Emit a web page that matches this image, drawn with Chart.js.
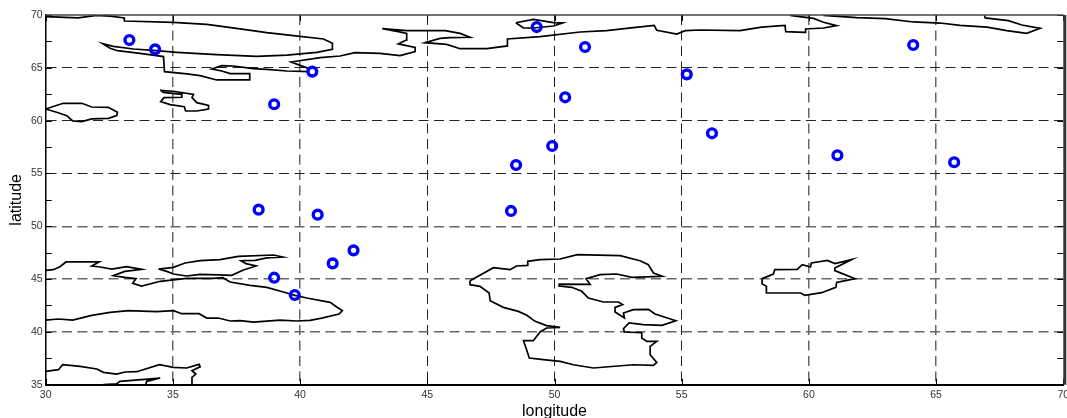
<!DOCTYPE html>
<html>
<head>
<meta charset="utf-8">
<style>
  html, body { margin: 0; padding: 0; background: #fff; }
  canvas { display: block; }
</style>
<script src="https://cdn.jsdelivr.net/npm/chart.js@4/dist/chart.umd.js"></script>
</head>
<body>
<canvas id="myChart" width="1067" height="418"></canvas>
<script>
const xTicks = [30, 35, 40, 45, 50, 55, 60, 65, 70];
const yTicks = [35, 40, 45, 50, 55, 60, 65, 70];
const yMinor = [37.5, 42.5, 47.5, 52.5, 57.5, 62.5, 67.5];

const stationLon = [33.29, 34.3, 40.48, 38.98, 38.37, 40.69, 42.1, 41.28, 38.98, 39.79, 49.3, 51.2, 55.2, 50.42, 49.91, 48.49, 48.29, 64.1, 56.19, 61.12, 65.71];
const stationLat = [67.63, 66.75, 64.64, 61.55, 51.57, 51.1, 47.72, 46.49, 45.13, 43.49, 68.86, 66.97, 64.38, 62.21, 57.6, 55.8, 51.45, 67.16, 58.8, 56.72, 56.06];

// coastlines, one lon/lat array pair per outline
const northLon = [30, 31.28, 32, 32.53, 33.09, 33.09, 35.02, 36.33, 37.64, 38.69, 39.74, 40.92, 41.27, 41.27, 40.66, 39.48, 38.3, 36.72, 35.15, 34.36, 33.45, 32.66, 32.24, 32.53, 32.82, 33.71, 34.63, 34.67, 35.55, 36.07, 36.72, 38.02, 38.02, 37.25, 36.92, 36.53, 36.92, 37.38, 38.16, 38.69, 39.48, 40.33, 40.33, 39.65, 40.79, 41.57, 42.16, 43.14, 43.93, 44.52, 44.52, 43.86, 44.17, 44.19, 43.86, 43.23, 44.19, 45, 45.7, 46.29, 46.68, 45.9, 45.5, 44.91, 45.76, 46.29, 47.34, 48.15, 48.15, 49.43, 51.01, 52.05, 53.1, 53.92, 54.02, 54.81, 55.14, 55.72, 57.29, 58.14, 59.06, 59.09, 59.85, 59.87, 60.57, 61.09, 60.57, 60.18, 59.26];
const northLat = [69.84, 69.72, 69.97, 69.9, 69.72, 69.43, 69.31, 69.12, 68.68, 68.33, 68.04, 67.73, 67.32, 66.75, 66.47, 66.21, 66.09, 66.25, 66.47, 66.62, 66.78, 67.03, 67.29, 66.85, 66.62, 66.37, 66.06, 64.64, 64.42, 64.26, 63.85, 63.85, 64.45, 64.45, 64.7, 64.89, 65.2, 65.17, 64.92, 64.86, 64.7, 64.64, 64.95, 65.55, 65.96, 66.12, 66.44, 66.37, 66.15, 66.53, 66.94, 67.26, 67.63, 68.26, 68.42, 68.71, 68.52, 68.52, 68.52, 68.26, 67.89, 67.85, 67.79, 67.38, 67.22, 66.81, 66.81, 67.07, 67.73, 67.95, 68.39, 68.52, 68.8, 69.02, 68.55, 68.2, 68.52, 68.58, 68.52, 68.86, 69.02, 68.42, 68.36, 68.68, 68.77, 69, 69.31, 69.68, 69.97];

const northEastLon = [60.57, 61.88, 63, 64.11, 65.16, 65.94, 67, 67.78, 68.56, 69.09, 68.37, 67.84, 66.93, 66.9];
const northEastLat = [69.97, 69.75, 69.65, 69.34, 69.24, 69.02, 68.86, 68.52, 68.26, 68.74, 69.05, 69.46, 69.72, 69.97];

const kolguevLon = [48.48, 49.17, 49.96, 50.32, 49.96, 49.17, 48.78, 48.48];
const kolguevLat = [69.27, 69.59, 69.27, 69.24, 68.96, 68.77, 68.77, 69.27];

const lake1Lon = [30, 30.69, 31.42, 31.81, 32.46, 32.82, 32.79, 32.46, 31.81, 31.42, 31.06, 30.83, 30.43, 30];
const lake1Lat = [61.1, 61.64, 61.64, 61.29, 61.26, 60.79, 60.47, 60.22, 60.16, 59.9, 59.97, 60.47, 60.79, 61.1];

const lake2Lon = [34.5, 35.02, 35.81, 35.75, 35.94, 36.4, 36.4, 35.94, 35.5, 35.45, 34.89, 34.52, 34.65, 35.35, 35.35, 34.63, 34.5];
const lake2Lat = [62.87, 62.78, 62.49, 62.18, 61.7, 61.45, 61.1, 60.91, 60.91, 61.32, 61.51, 61.8, 62.18, 62.21, 62.49, 62.68, 62.87];

const blackSeaLon = [30, 30.3, 30.56, 30.8, 32.1, 31.81, 32.14, 32.6, 33.18, 33.77, 33.11, 32.66, 33.11, 33.55, 33.42, 33.77, 34.5, 35.54, 36.59, 36.96, 37.25, 38.03, 38.69, 39.34, 39.8, 40.26, 41.18, 41.44, 41.66, 41.53, 40.85, 40.39, 39.87, 39.21, 38.17, 37.64, 37.25, 36.79, 36.33, 36.03, 35.35, 35.02, 34.36, 33.25, 32.53, 31.81, 31.06, 30.5, 30];
const blackSeaLat = [45.83, 45.89, 46.17, 46.62, 46.62, 46.24, 46.14, 45.95, 46.17, 45.92, 45.73, 45.32, 45.16, 45.04, 44.6, 44.34, 44.79, 45.07, 45.07, 45.13, 44.72, 44.41, 44.22, 43.78, 43.46, 43.21, 42.8, 42.35, 42.01, 41.69, 41.31, 41.09, 41.03, 41.12, 40.93, 41.06, 41.03, 41.31, 41.31, 41.72, 41.72, 42.01, 41.91, 42.01, 41.85, 41.57, 41.12, 41.22, 41.12];

const azovLon = [34.43, 35.02, 35.48, 36.07, 36.85, 37.57, 38.95, 39.32, 38.69, 38.23, 37.68, 37.87, 38.27, 37.77, 37.31, 36.79, 36.07, 35.54, 35.02, 34.76, 34.43];
const azovLat = [45.95, 46.11, 46.52, 46.74, 46.84, 47.15, 47.28, 47.09, 47, 46.77, 46.74, 46.46, 46.24, 45.86, 45.35, 45.39, 45.45, 45.29, 45.48, 45.73, 45.95];

const medLon = [30, 30.5, 30.67, 31.35, 32.01, 32.27, 32.79, 33.12, 33.58, 34.47, 35.02, 35.54, 36.03, 36.07, 35.75, 35.9, 35.75, 35.75];
const medLat = [36.26, 36.42, 36.89, 36.74, 36.49, 36.17, 36.01, 36.2, 36.23, 36.89, 36.64, 36.58, 36.93, 36.7, 36.33, 36.01, 35.7, 35];

const cyprusLon = [32.27, 32.79, 32.92, 34.5, 33.97, 33.93];
const cyprusLat = [35, 35.09, 35.32, 35.63, 35.32, 35];

const caspianLon = [46.68, 47.6, 48.25, 48.51, 48.95, 48.95, 49.43, 50.22, 50.9, 52.58, 53.36, 53.69, 53.89, 54.24, 53.04, 52.45, 51.79, 51.24, 51.4, 50.19, 50.18, 50.68, 51.07, 51.33, 51.92, 52.51, 52.68, 52.38, 52.38, 52.75, 52.71, 53.1, 53.69, 53.95, 54.77, 54.22, 53.49, 52.93, 52.71, 52.75, 53.43, 53.43, 53.63, 54.02, 53.76, 53.76, 54.02, 53.89, 53.1, 51.53, 50.74, 50.22, 49.56, 49.01, 48.88, 48.78, 49.17, 49.43, 49.69, 50.22, 49.69, 49.24, 48.91, 48.58, 47.99, 47.47, 47.43, 47.07, 46.68, 46.68];
const caspianLat = [44.85, 46.08, 45.89, 46.24, 46.3, 46.68, 46.84, 46.9, 47.31, 47.22, 46.74, 46.36, 45.57, 45.26, 45.16, 45.48, 45.42, 45.04, 44.5, 44.53, 44.34, 44.22, 43.84, 43.21, 42.83, 42.83, 42.58, 42.32, 41.88, 41.31, 41.79, 42.1, 42.13, 41.69, 41.06, 40.62, 40.68, 40.84, 40.3, 39.99, 39.92, 39.42, 39.1, 39.1, 38.63, 37.84, 37.11, 36.83, 36.89, 36.58, 36.89, 37.21, 37.37, 37.53, 38.47, 39.17, 39.17, 39.99, 40.37, 40.43, 40.59, 41, 41.57, 41.94, 42.32, 42.95, 43.68, 44.31, 44.47, 44.85];

const aralLon = [58.16, 58.6, 58.66, 59.54, 59.74, 60.06, 60.1, 60.73, 61.02, 61.68, 61.02, 61.02, 61.81, 61.09, 61.06, 60.5, 59.84, 59.68, 58.33, 58.33, 58.16, 58.16];
const aralLat = [45.04, 45.48, 45.89, 45.92, 46.36, 46.14, 46.52, 46.77, 46.46, 46.84, 46.05, 45.8, 45.04, 44.69, 44.22, 43.71, 43.46, 43.68, 43.68, 44.31, 44.56, 45.04];

const toPoints = (lon, lat) => lon.map((x, i) => ({ x: x, y: lat[i] }));

const coast = (lon, lat) => ({
  type: 'line',
  data: toPoints(lon, lat),
  borderColor: '#000',
  borderWidth: 1.7,
  pointRadius: 0,
  tension: 0,
  clip: true,
});

const outlines = [
  [northLon, northLat], [northEastLon, northEastLat], [kolguevLon, kolguevLat],
  [lake1Lon, lake1Lat], [lake2Lon, lake2Lat], [blackSeaLon, blackSeaLat],
  [azovLon, azovLat], [medLon, medLat], [cyprusLon, cyprusLat],
  [caspianLon, caspianLat], [aralLon, aralLat],
];

// the "70" label hangs off the canvas in the reference, layout would pull the axis in for it
const plotRight = 1063.3;
const stretchRight = {
  id: 'stretchRight',
  afterLayout(chart) {
    const x = chart.scales.x;
    x.right = plotRight;
    x.width = plotRight - x.left;
    x.configure();
    chart.chartArea.right = plotRight;
    chart.chartArea.width = x.width;
  },
};

// matlab style box: inward ticks, top and right edges
const boxTicks = {
  id: 'boxTicks',
  afterDatasetsDraw(chart) {
    const { ctx, chartArea: a, scales: { x, y } } = chart;
    ctx.save();
    ctx.strokeStyle = '#000';
    ctx.lineWidth = 1;
    ctx.beginPath();
    yTicks.concat(yMinor).forEach((v) => {
      const py = Math.round(y.getPixelForValue(v)) + 0.5;
      ctx.moveTo(a.left, py);
      ctx.lineTo(a.left + 6, py);
      ctx.moveTo(a.right, py);
      ctx.lineTo(a.right - 6, py);
    });
    xTicks.forEach((v) => {
      const px = Math.round(x.getPixelForValue(v)) + 0.5;
      ctx.moveTo(px, a.bottom);
      ctx.lineTo(px, a.bottom - 6);
      ctx.moveTo(px, a.top);
      ctx.lineTo(px, a.top + 6);
    });
    ctx.stroke();
    ctx.strokeStyle = '#444';
    ctx.lineWidth = 1.5;
    ctx.beginPath();
    ctx.moveTo(a.left, a.top);
    ctx.lineTo(a.right, a.top);
    ctx.stroke();
    ctx.strokeStyle = '#333';
    ctx.lineWidth = 3;
    ctx.beginPath();
    ctx.moveTo(a.right + 1.5, a.top);
    ctx.lineTo(a.right + 1.5, a.bottom);
    ctx.stroke();
    ctx.restore();
  },
};

// grid lines that land between two pixels in the reference come out grey and wide
const softX = [35, 40, 60, 65];
const softY = [40, 45, 50];
const xEdges = [30, 70];
const yEdges = [35, 70];

const gridStyle = (edges, soft) => ({
  color: (c) => {
    const v = c.tick && c.tick.value;
    if (v === undefined || edges.includes(v)) return 'rgba(0,0,0,0)';
    return soft.includes(v) ? '#666' : '#222';
  },
  lineWidth: (c) => (c.tick && soft.includes(c.tick.value) ? 1.5 : 1),
  drawTicks: false,
  tickLength: 0,
});

const tickFont = { family: '"Liberation Sans"', size: 10.5 };
const titleFont = { family: '"Liberation Sans"', size: 16, lineHeight: 1 };

const config = {
  type: 'scatter',
  data: {
    datasets: [
      {
        data: toPoints(stationLon, stationLat),
        pointStyle: 'circle',
        pointRadius: 4.4,
        pointBorderWidth: 3.4,
        pointBorderColor: '#0000ff',
        pointBackgroundColor: 'rgba(0,0,0,0)',
        showLine: false,
        order: 0,
      },
    ].concat(outlines.map(([lon, lat]) => ({ ...coast(lon, lat), order: 1 }))),
  },
  options: {
    responsive: false,
    animation: false,
    layout: { padding: { top: 15, right: 0, left: 0, bottom: 0 } },
    plugins: { legend: { display: false }, tooltip: { enabled: false } },
    scales: {
      x: {
        type: 'linear',
        min: 30,
        max: 70,
        afterBuildTicks: (s) => { s.ticks = xTicks.map((v) => ({ value: v })); },
        afterFit: (s) => { s.height = 33.3; },
        ticks: { color: '#333', font: tickFont, maxRotation: 0, padding: 4 },
        grid: gridStyle(xEdges, softX),
        border: { display: true, color: '#000', width: 2, dash: [10, 5.5] },
        title: { display: true, text: 'longitude', color: '#000', font: titleFont, padding: { top: 0, bottom: -2 } },
      },
      y: {
        min: 35,
        max: 70,
        afterBuildTicks: (s) => { s.ticks = yTicks.map((v) => ({ value: v })); },
        afterFit: (s) => { s.width = 45.7; },
        ticks: { color: '#333', font: tickFont, padding: 3 },
        grid: gridStyle(yEdges, softY),
        border: { display: true, color: '#000', width: 1.5, dash: [10, 5.5] },
        title: { display: true, text: 'latitude', color: '#000', font: titleFont, padding: { top: 8.5, bottom: 0 } },
      },
    },
  },
  plugins: [stretchRight, boxTicks],
};

new Chart(document.getElementById('myChart'), config);
</script>
</body>
</html>
